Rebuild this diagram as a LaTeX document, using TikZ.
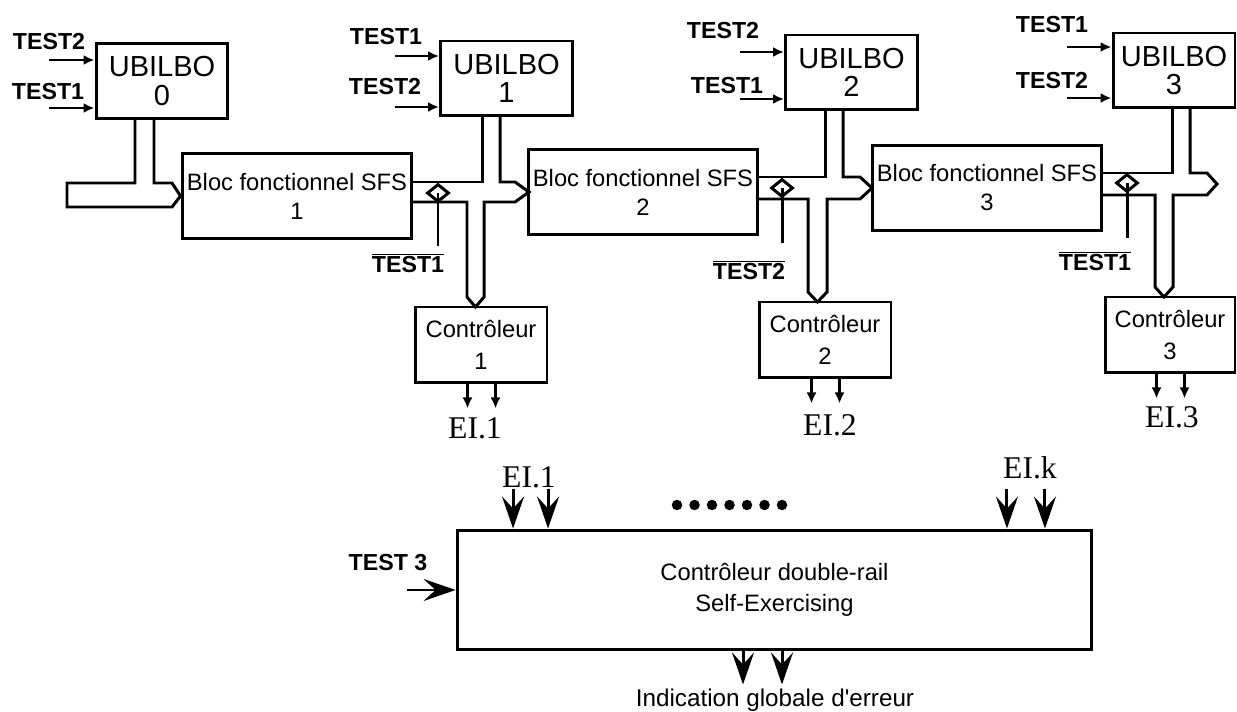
\documentclass[tikz,border=0pt]{standalone}
\usepackage{fontspec}
\newfontfamily\helv{Liberation Sans}
\newfontfamily\eifont{Liberation Serif}
\usetikzlibrary{arrows.meta,shapes.geometric}

\begin{document}
\begin{tikzpicture}[x=0.02cm, y=-0.02cm, line width=1.7pt,
    ubilbo/.style={draw, minimum width=2.64cm, minimum height=1.5cm, inner sep=1pt, align=center, font=\helv\fontsize{16.5}{16}\selectfont},
    bloc/.style={draw, minimum width=4.6cm, minimum height=1.7cm, inner sep=1pt, align=center, font=\helv\fontsize{13.5}{16.5}\selectfont},
    ctrl/.style={draw, minimum width=2.64cm, minimum height=1.52cm, inner sep=1pt, align=center, font=\helv\fontsize{13.5}{18.5}\selectfont},
    lbl/.style={font=\helv\bfseries\fontsize{13.2}{14}\selectfont, inner sep=1pt},
    ei/.style={font=\eifont\fontsize{18}{18}\selectfont, inner sep=1pt},
    sig/.style={-{Latex[length=0.22cm,width=0.2cm]}, line width=1.4pt},
    grosse/.style={-{Stealth[length=0.64cm,width=0.44cm,inset=0.24cm]}, line width=1.7pt},
    vanne/.style={draw, diamond, minimum width=0.44cm, minimum height=0.36cm, inner sep=0pt}
]
    \useasboundingbox (0,0) rectangle (1237,712);

    % UBILBO
    \node[ubilbo] (U0) at (162,81) {UBILBO\\0};
    \node[ubilbo] (U1) at (506.5,78.5) {UBILBO\\1};
    \node[ubilbo] (U2) at (851.5,72.5) {UBILBO\\2};
    \node[ubilbo, minimum width=2.44cm] (U3) at (1174,70.5) {UBILBO\\3};

    % entrees de test des UBILBO
    \foreach \bx/\xs/\ya/\yb/\lxa/\lya/\lxb/\lyb/\ta/\tb in {
        U0/49/60/108/49/42/48/92/TEST2/TEST1,
        U1/395/56/107/386/37/385/87/TEST1/TEST2,
        U2/740/52/99/723/31/727/86/TEST2/TEST1,
        U3/1067/47/98/1052/25/1052/81/TEST1/TEST2} {
        \coordinate (\bx a) at (\xs,\ya);
        \coordinate (\bx b) at (\xs,\yb);
        \draw[sig] (\bx a) -- (\bx a -| \bx.west);
        \draw[sig] (\bx b) -- (\bx b -| \bx.west);
        \node[lbl] (\bx la) at (\lxa,\lya) {\ta};
        \node[lbl] (\bx lb) at (\lxb,\lyb) {\tb};
    }

    % blocs fonctionnels
    \node[bloc] (B1) at (297,196) {Bloc fonctionnel SFS\\1};
    \node[bloc] (B2) at (643,192) {Bloc fonctionnel SFS\\2};
    \node[bloc] (B3) at (987,188) {Bloc fonctionnel SFS\\3};

    % controleurs
    \node[ctrl] (C1) at (481,345) {Contrôleur\\1};
    \node[ctrl] (C2) at (825,340) {Contrôleur\\2};
    \node[ctrl, minimum width=2.6cm] (C3) at (1170,335) {Contrôleur\\3};

    % bus d'entree du bloc 1
    \draw (135,119) -- (135,183) -- (67,183) -- (67,207) -- (172,207)
          -- (B1.west) -- (172,183) -- (154,183) -- (154,119);

    % croisements des bus
    \foreach \xe/\xa/\xb/\xs/\xp/\xl/\xr/\yt/\yb/\yu/\yv in {
        412/482/500/515/529/467/484/182/202/116/297,
        757/825/843/860/872/808/827/177/199/110/292,
        1102/1172/1190/1207/1217/1155/1173/173/195/108/287} {
        \draw (\xe,\yt) -- (\xa,\yt) -- (\xa,\yu);
        \draw (\xb,\yu) -- (\xb,\yt) -- (\xs,\yt) -- (\xp,{(\yt+\yb)/2}) -- (\xs,\yb)
              -- (\xr,\yb) -- (\xr,\yv) -- ({(\xl+\xr)/2},\yv+10) -- (\xl,\yv)
              -- (\xl,\yb) -- (\xe,\yb);
    }

    % aiguillages
    \node[vanne] (D1) at (438,193) {};
    \node[vanne] (D2) at (782,188) {};
    \node[vanne] (D3) at (1127,183) {};
    \coordinate (D1b) at (438,246);
    \coordinate (D2b) at (782,243);
    \coordinate (D3b) at (1127,238);
    \draw (D1.center) -- (D1b);
    \draw (D2.center) -- (D2b);
    \draw (D3.center) -- (D3b);
    \node[lbl] (n1) at (408,263) {$\overline{\mbox{TEST1}}$};
    \node[lbl] (n2) at (749,270) {$\overline{\mbox{TEST2}}$};
    \node[lbl] (n3) at (1095,261) {$\overline{\mbox{TEST1}}$};

    % sorties des controleurs
    \foreach \c in {C1,C2,C3} {
        \draw[sig] ([xshift=-0.27cm]\c.south) -- ++(0,24);
        \draw[sig] ([xshift=0.29cm]\c.south) -- ++(0,24);
    }
    \node[ei] (e1) at (475,428) {EI.1};
    \node[ei] (e2) at (830,425) {EI.2};
    \node[ei] (e3) at (1172,417) {EI.3};

    % controleur double-rail
    \node[draw, minimum width=12.7cm, minimum height=2.4cm, align=center,
          font=\helv\fontsize{13.5}{17.6}\selectfont] (CDR) at (774.5,590)
          {Contrôleur double-rail\\Self-Exercising};

    \draw[grosse] ([xshift=-5.23cm,yshift=0.8cm]CDR.north) -- ([xshift=-5.23cm]CDR.north);
    \draw[grosse] ([xshift=-4.53cm,yshift=0.8cm]CDR.north) -- ([xshift=-4.53cm]CDR.north);
    \draw[grosse] ([xshift=4.65cm,yshift=0.8cm]CDR.north) -- ([xshift=4.65cm]CDR.north);
    \draw[grosse] ([xshift=5.41cm,yshift=0.8cm]CDR.north) -- ([xshift=5.41cm]CDR.north);
    \node[ei] (ek1) at (529,477) {EI.1};
    \node[ei] (ekk) at (1030,468) {EI.k};

    \foreach \i in {0,...,6}
        \fill (677+17.5*\i,505) circle (0.105cm);

    \coordinate (t3) at (407,590);
    \draw[grosse] (t3) -- (CDR.west);
    \node[lbl] (l3) at (388,563) {TEST 3};

    \draw[grosse] ([xshift=-0.63cm]CDR.south) -- ++(0,33);
    \draw[grosse] ([xshift=0.15cm]CDR.south) -- ++(0,33);
    \node[font=\helv\fontsize{13.8}{15}\selectfont] (ind) at (775,700) {Indication globale d'erreur};
\end{tikzpicture}
\end{document}
